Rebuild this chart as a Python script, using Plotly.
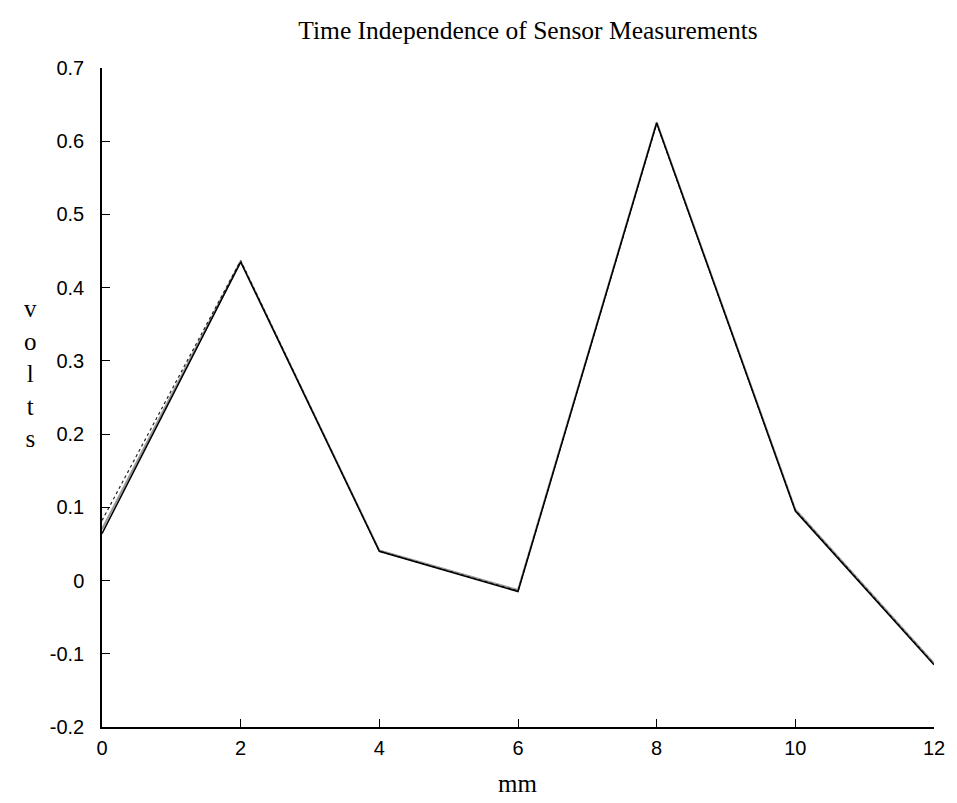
import plotly.graph_objects as go

x_mm = [0, 2, 4, 6, 8, 10, 12]
run_solid = [0.064, 0.435, 0.04, -0.015, 0.625, 0.095, -0.115]
run_dotted = [0.082, 0.437, 0.04, -0.014, 0.624, 0.096, -0.114]
run_gray = [0.07, 0.436, 0.041, -0.013, 0.626, 0.097, -0.113]

y_ticks = [-0.2, -0.1, 0, 0.1, 0.2, 0.3, 0.4, 0.5, 0.6, 0.7]
y_tick_text = ["-0.2", "-0.1", "0", "0.1", "0.2", "0.3", "0.4", "0.5", "0.6", "0.7"]
x_ticks = [0, 2, 4, 6, 8, 10, 12]

fig = go.Figure()
fig.add_trace(go.Scatter(x=x_mm, y=run_gray, mode="lines",
                         line=dict(color="#999999", width=2), showlegend=False))
fig.add_trace(go.Scatter(x=x_mm, y=run_dotted, mode="lines",
                         line=dict(color="#222222", width=1.2, dash="dot"), showlegend=False))
fig.add_trace(go.Scatter(x=x_mm, y=run_solid, mode="lines",
                         line=dict(color="black", width=1.5), showlegend=False))

tickfont = dict(family="Liberation Sans", size=20, color="black")
fig.update_layout(
    width=957, height=803,
    margin=dict(l=102, r=20, t=68, b=76),
    paper_bgcolor="white", plot_bgcolor="white",
    title=dict(text="Time Independence of Sensor Measurements", x=528 / 957, xanchor="center",
               y=1 - 30 / 803, yanchor="middle",
               font=dict(family="Liberation Serif", size=25.5, color="black")),
    xaxis=dict(range=[0, 12], tickvals=x_ticks, ticks="inside", ticklen=8, tickwidth=1.2,
               tickcolor="black", showline=True, linecolor="black", linewidth=1.5,
               showgrid=False, zeroline=False, ticklabelstandoff=2, tickfont=tickfont),
    yaxis=dict(range=[-0.2, 0.7], tickvals=y_ticks, ticktext=y_tick_text, ticks="inside",
               ticklen=8, tickwidth=1.2, tickcolor="black", showline=True, linecolor="black",
               linewidth=1.5, showgrid=False, zeroline=False, ticklabelstandoff=12,
               tickfont=tickfont),
    annotations=[
        dict(text="v<br>o<br>l<br>t<br>s", x=0, y=0, xref="paper", yref="paper",
             showarrow=False, font=dict(family="Liberation Serif", size=25, color="black"),
             align="center"),
        dict(text="mm", x=0.5, y=0, xref="paper", yref="paper", showarrow=False,
             yanchor="middle",
             font=dict(family="Liberation Serif", size=25, color="black")),
    ],
)
plot_w = 957 - 102 - 20
plot_h = 803 - 68 - 76
fig.layout.annotations[0].x = (22 - 102) / plot_w
fig.layout.annotations[0].y = (803 - 76 - 373) / plot_h
fig.layout.annotations[1].x = (519 - 102) / plot_w
fig.layout.annotations[1].y = (803 - 76 - 784) / plot_h

fig.write_html("out.html")
